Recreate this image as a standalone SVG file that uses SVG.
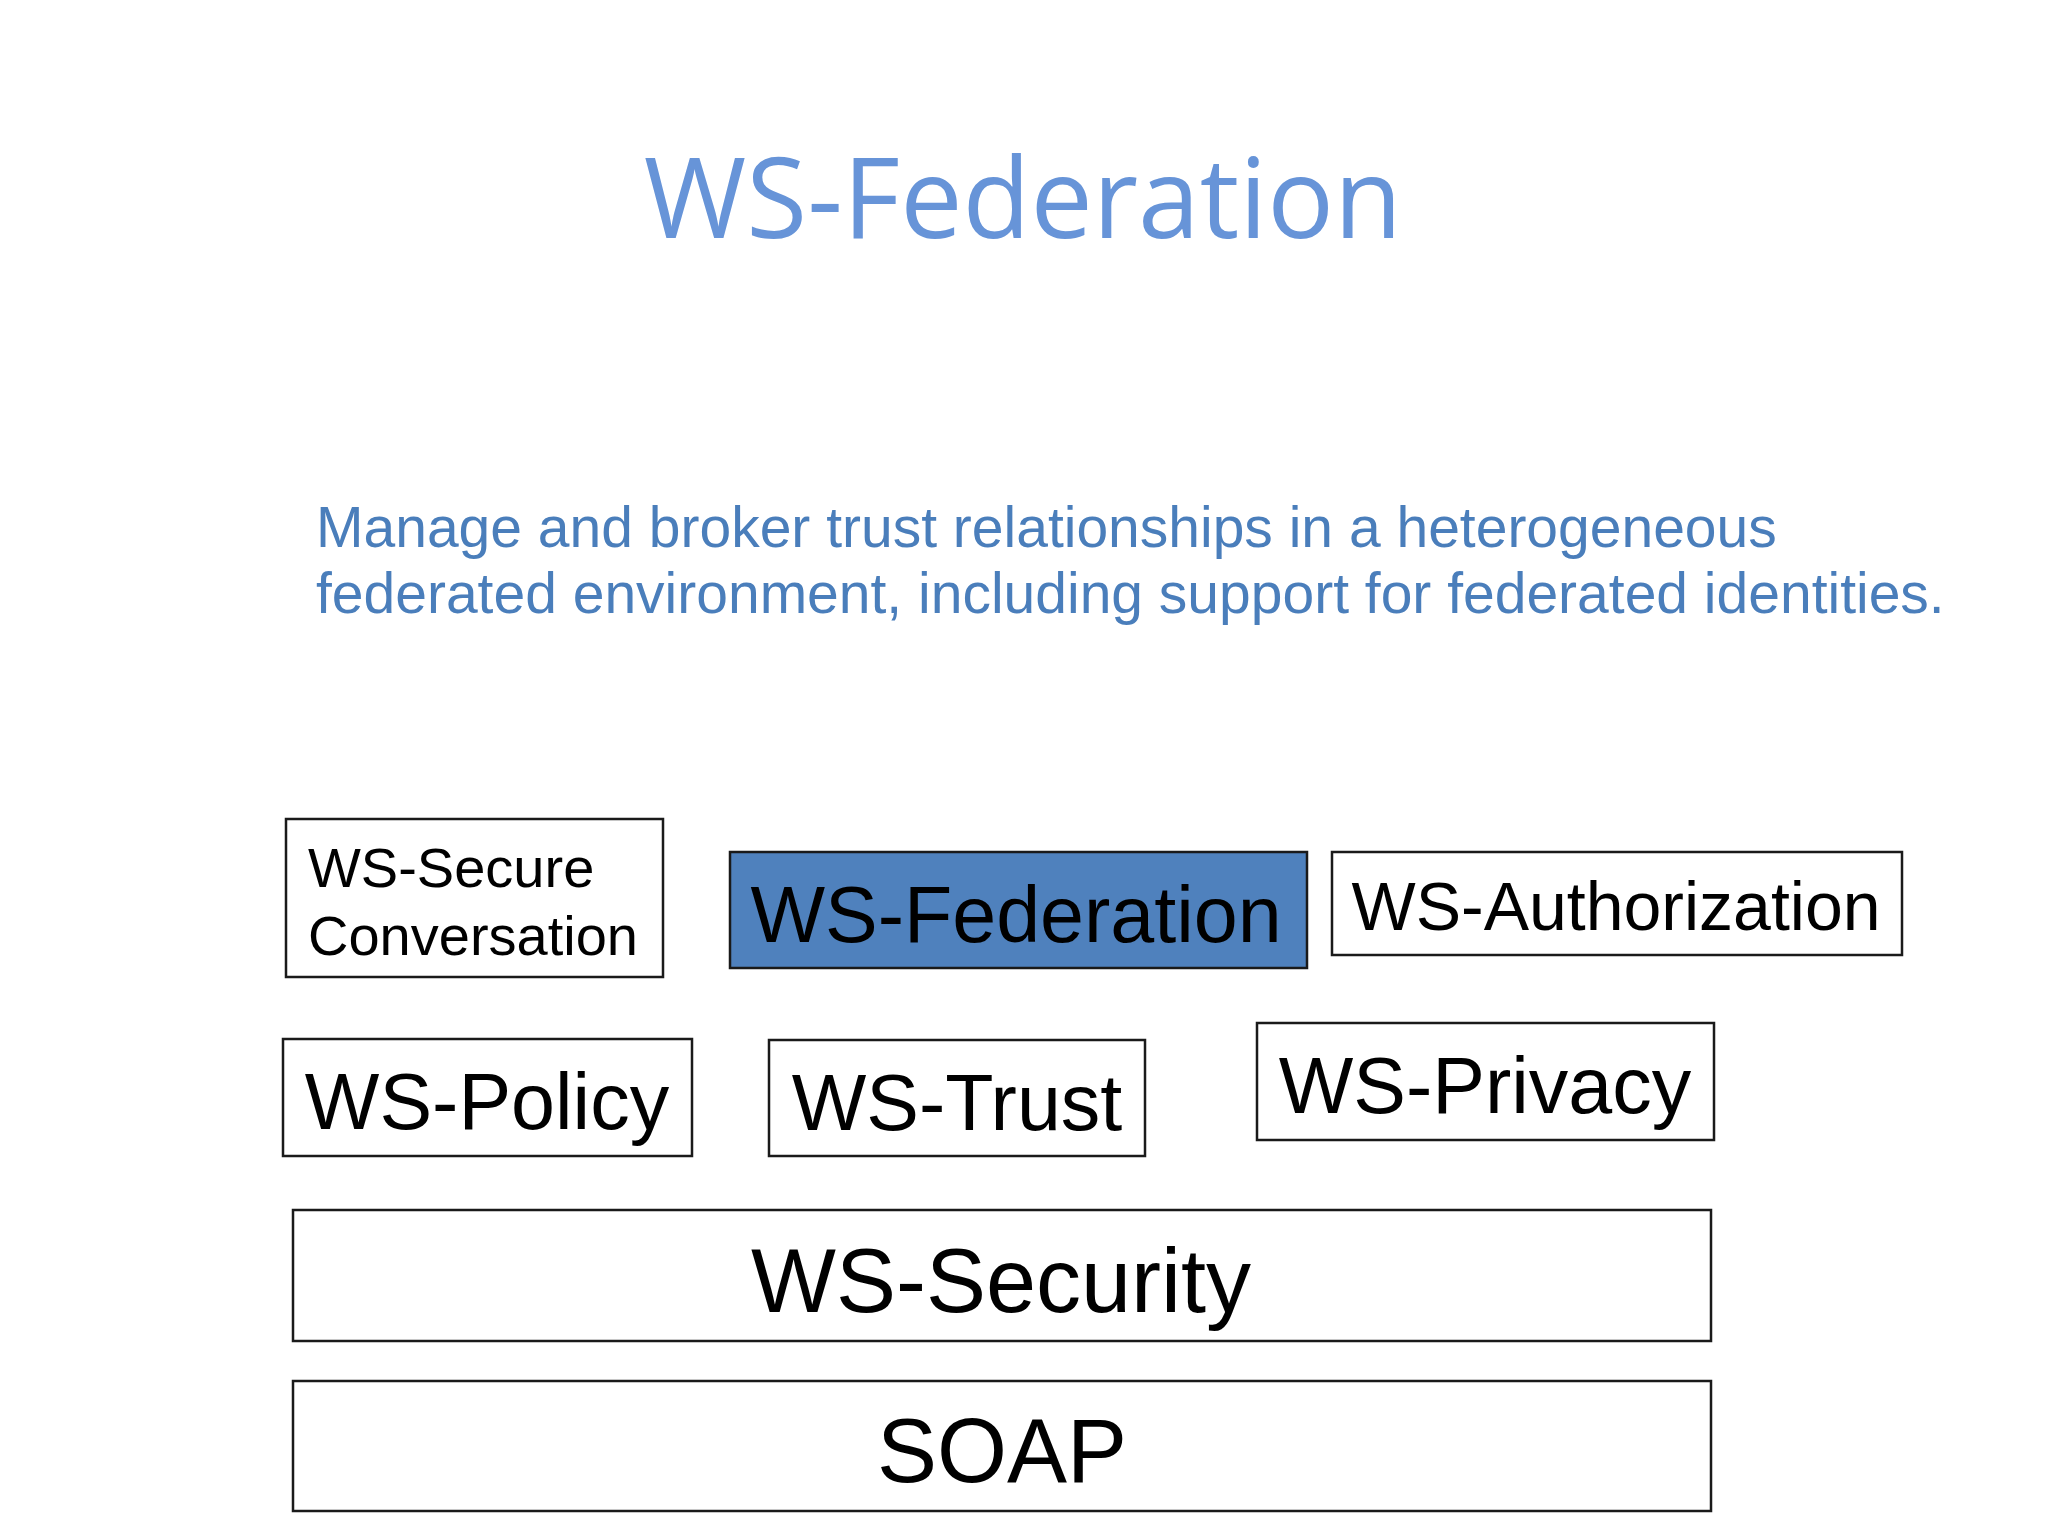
<svg xmlns="http://www.w3.org/2000/svg" width="2048" height="1536" viewBox="0 0 2048 1536">
<style>
.box{fill:#ffffff;stroke:#1a1a1a;stroke-width:2.5}
.hl{fill:#4f81bd;stroke:#1a1a1a;stroke-width:2.5}
.lbl{font-family:"Liberation Sans",Arial,sans-serif;fill:#000000}
.mid{text-anchor:middle}
</style>
<rect x="0" y="0" width="2048" height="1536" fill="#ffffff"/>
<text x="1023" y="238" font-family="'Open Sans',sans-serif" font-size="111" fill="#6794d8" text-anchor="middle">WS-Federation</text>
<g font-family="'Liberation Sans',Arial,sans-serif" font-size="57" fill="#4a7ebb">
<text x="316" y="547">Manage and broker trust relationships in a heterogeneous</text>
<text x="316" y="613">federated environment, including support for federated identities.</text>
</g>
<g id="ws-secure-conversation">
<rect class="box" x="286" y="819" width="377" height="158"/>
<text class="lbl" x="308" y="887" font-size="56">WS-Secure</text>
<text class="lbl" x="308" y="955" font-size="56">Conversation</text>
</g>
<g id="ws-federation">
<rect class="hl" x="730" y="852" width="577" height="116"/>
<text class="lbl mid" x="1016" y="942" font-size="79">WS-Federation</text>
</g>
<g id="ws-authorization">
<rect class="box" x="1332" y="852" width="570" height="103"/>
<text class="lbl mid" x="1616" y="930" font-size="68">WS-Authorization</text>
</g>
<g id="ws-policy">
<rect class="box" x="283" y="1039" width="409" height="117"/>
<text class="lbl mid" x="487" y="1129" font-size="79">WS-Policy</text>
</g>
<g id="ws-trust">
<rect class="box" x="769" y="1040" width="376" height="116"/>
<text class="lbl mid" x="957" y="1130" font-size="79">WS-Trust</text>
</g>
<g id="ws-privacy">
<rect class="box" x="1257" y="1023" width="457" height="117"/>
<text class="lbl mid" x="1485" y="1113" font-size="79">WS-Privacy</text>
</g>
<g id="ws-security">
<rect class="box" x="293" y="1210" width="1418" height="131"/>
<text class="lbl mid" x="1001" y="1312" font-size="90">WS-Security</text>
</g>
<g id="soap">
<rect class="box" x="293" y="1381" width="1418" height="130"/>
<text class="lbl mid" x="1002" y="1482" font-size="90">SOAP</text>
</g>
<g id="connectors"></g>
</svg>
